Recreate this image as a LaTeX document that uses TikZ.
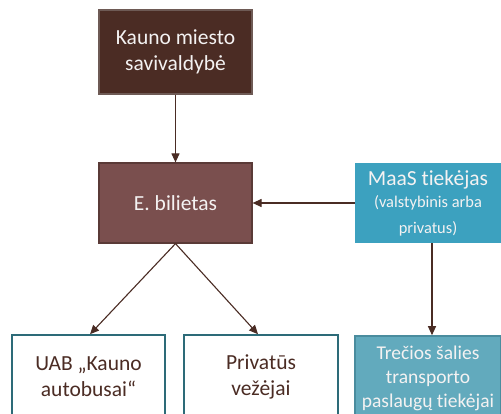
\documentclass[tikz,border=0pt]{standalone}
\usepackage{fontspec}
\setmainfont{Carlito}[Ligatures=NoCommon]
\usetikzlibrary{arrows.meta}
\definecolor{darkbrown}{HTML}{4B2C24}
\definecolor{darkbrownedge}{HTML}{6E5A55}
\definecolor{midbrown}{HTML}{7A4F4E}
\definecolor{midbrownedge}{HTML}{5A3A37}
\definecolor{maasblue}{HTML}{3CA1BF}
\definecolor{thirdblue}{HTML}{62AABD}
\definecolor{thirdedge}{HTML}{4A8C9E}
\definecolor{tealedge}{HTML}{2D6B78}
\definecolor{arrowbrown}{HTML}{4A2C24}
\definecolor{lighttext}{HTML}{F4F2F2}
\newcommand{\subsize}{\fontsize{16.4}{17.5}\selectfont}
\tikzset{
  box/.style={rectangle, inner sep=0pt, align=center, font=\fontsize{21.5}{26}\selectfont},
  topbox/.style={box, fill=darkbrown, draw=darkbrownedge, line width=1.2pt, text=lighttext},
  ticketbox/.style={box, fill=midbrown, draw=midbrownedge, line width=1.2pt, text=lighttext},
  maasbox/.style={box, fill=maasblue, text=lighttext},
  carrierbox/.style={box, fill=white, draw=tealedge, line width=1.6pt, text=darkbrown},
  thirdbox/.style={box, fill=thirdblue, draw=thirdedge, line width=1.6pt, text=lighttext},
  link/.style={draw=arrowbrown, line width=1.1pt, -{Triangle[length=9pt,width=8pt]}}
}
\begin{document}
\begin{tikzpicture}[x=1pt,y=-1pt]
  \useasboundingbox (0,0) rectangle (501,413);
  \clip (0,0) rectangle (501,413);
  \fill[white] (0,0) rectangle (501,413);

  \node[topbox, minimum width=153pt, minimum height=84pt] (city) at (175.5,52)
    {Kauno miesto\\savivaldybė};
  \node[ticketbox, minimum width=153pt, minimum height=80pt] (ticket) at (175.5,203)
    {E. bilietas};
  \node[maasbox, minimum width=146pt, minimum height=80pt] (maas) at (428,203)
    {MaaS tiekėjas\\[-4pt]\subsize (valstybinis arba\\\subsize privatus)};

  \node[carrierbox, minimum width=153pt, minimum height=84pt] (bus) at (88.5,377)
    {UAB „Kauno\\autobusai“};
  \node[carrierbox, minimum width=154pt, minimum height=84pt] (private) at (261,377)
    {Privatūs\\vežėjai};
  \node[thirdbox, minimum width=146pt, minimum height=84pt,
        font=\fontsize{19.5}{24}\selectfont] (third) at (428,378)
    {Trečios šalies\\transporto\\paslaugų tiekėjai};

  \draw[link] (city.south) -- (ticket.north);
  \draw[link] (maas.west) -- (ticket.east);
  \draw[link] (ticket.south) -- ([xshift=1.5pt]bus.north);
  \draw[link] (ticket.south) -- ([xshift=-3pt]private.north);
  \draw[link] ([xshift=4pt]maas.south) -- ([xshift=4pt]third.north);
\end{tikzpicture}
\end{document}
